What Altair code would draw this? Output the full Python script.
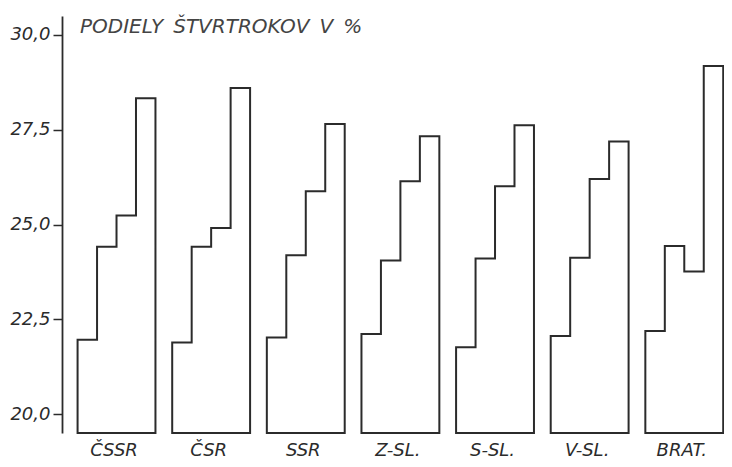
import altair as alt
import pandas as pd

# ---- data ----
regions = ["ČSSR", "ČSR", "SSR", "Z-SL.", "S-SL.", "V-SL.", "BRAT."]
q1 = [21.96, 21.89, 22.02, 22.11, 21.76, 22.06, 22.19]
q2 = [24.41, 24.41, 24.19, 24.05, 24.10, 24.12, 24.43]
q3 = [25.24, 24.91, 25.88, 26.14, 26.01, 26.20, 23.76]
q4 = [28.33, 28.60, 27.65, 27.33, 27.62, 27.19, 29.18]
y_ticks = [20.0, 22.5, 25.0, 27.5, 30.0]
title_text = "PODIELY\u2002ŠTVRTROKOV\u2002V\u2002%"

# ---- layout constants ----
Y_MIN, Y_MAX = 19.5, 30.5
STEP = 4.86          # distance between group starts, in quarter widths
FONT = "DejaVu Sans"
INK = "#2b2b2b"

# outline of each group: a staircase polygon over the four quarters
rows = []
for g, name in enumerate(regions):
    vals = [q1[g], q2[g], q3[g], q4[g]]
    x0 = g * STEP
    pts = [(x0, Y_MIN)]
    for i, v in enumerate(vals):
        pts.append((x0 + i, v))
        pts.append((x0 + i + 1, v))
    pts.append((x0 + 4, Y_MIN))
    pts.append((x0, Y_MIN))
    for k, (x, y) in enumerate(pts):
        rows.append({"region": name, "order": k, "x": x, "y": y})
df = pd.DataFrame(rows)

centers = [g * STEP + 2 for g in range(len(regions))]
names_js = "[" + ",".join("'" + r + "'" for r in regions) + "]"
x_label_expr = f"{names_js}[round((datum.value - 2) / {STEP})]"

chart = (
    alt.Chart(df)
    .mark_line(color=INK, strokeWidth=2, strokeCap="square", strokeJoin="miter")
    .encode(
        x=alt.X(
            "x:Q",
            scale=alt.Scale(domain=[-0.8, 6 * STEP + 4.04], nice=False, zero=False),
            axis=alt.Axis(
                values=centers,
                labelExpr=x_label_expr,
                domain=False,
                ticks=False,
                grid=False,
                labelFont=FONT,
                labelFontStyle="italic",
                labelFontSize=18,
                labelColor=INK,
                labelBaseline="alphabetic",
                labelPadding=22,
                labelOverlap=False,
                labelFlush=False,
                labelOffset=-3,
                title=None,
            ),
        ),
        y=alt.Y(
            "y:Q",
            scale=alt.Scale(domain=[Y_MIN, Y_MAX], nice=False, zero=False),
            axis=alt.Axis(
                values=y_ticks,
                labelExpr="replace(format(datum.value, '.1f'), '.', ',')",
                grid=False,
                domainColor=INK,
                domainWidth=1.8,
                tickColor=INK,
                tickWidth=1.5,
                tickSize=9,
                labelFont=FONT,
                labelFontStyle="italic",
                labelFontSize=18,
                labelColor=INK,
                labelPadding=3,
                title=None,
            ),
        ),
        detail="region:N",
        order="order:Q",
    )
    .properties(
        width=662,
        height=417,
        autosize=alt.AutoSizeParams(type="none"),
        padding={"left": 54, "top": 8, "right": 0, "bottom": 26},
        title=alt.TitleParams(
            title_text,
            anchor="start",
            frame="group",
            font=FONT,
            fontStyle="italic",
            fontWeight="normal",
            fontSize=20,
            color="#444444",
            offset=0,
            dx=18,
            dy=21,
        ),
        background="white",
    )
    .configure_view(stroke=None)
)

chart.save("out.html", embed_options={"renderer": "svg", "actions": False})
